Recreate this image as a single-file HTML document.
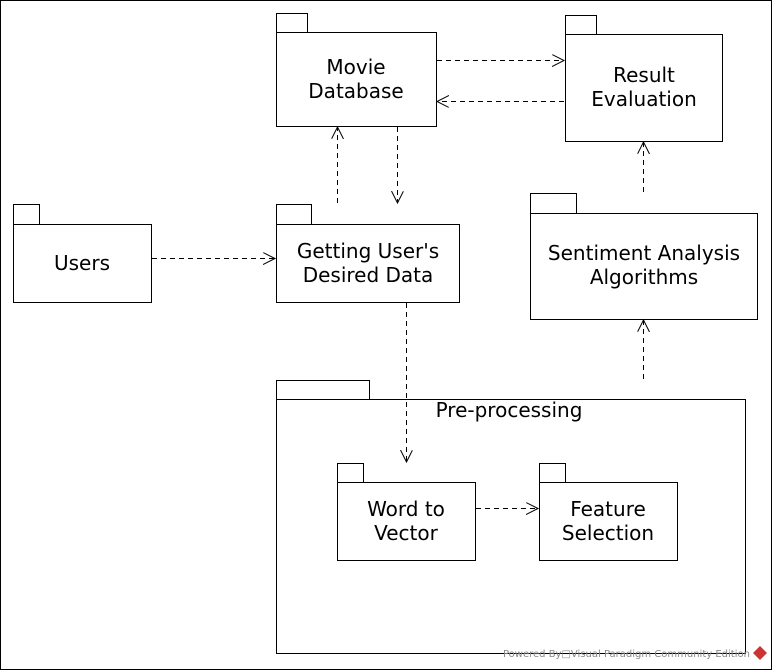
<!DOCTYPE html>
<html><head><style>html,body{margin:0;padding:0;background:#fff}svg{display:block}</style></head>
<body>
<svg width="772" height="670" xmlns="http://www.w3.org/2000/svg" font-family="DejaVu Sans, sans-serif" font-size="20">
<defs>
<marker id="a" markerWidth="14" markerHeight="14" refX="12" refY="6" orient="auto" markerUnits="userSpaceOnUse">
<path d="M0,0 L12,6 L0,12" fill="none" stroke="#000" stroke-width="1"/></marker>
</defs>
<rect x="0.5" y="0.5" width="771" height="669" fill="#fff" stroke="#000"/>
<g fill="#fff" stroke="#000" stroke-width="1">
<rect x="276.5" y="13.5" width="31" height="19"/><rect x="276.5" y="32.5" width="160" height="94"/>
<rect x="565.5" y="15.5" width="31" height="19"/><rect x="565.5" y="34.5" width="157" height="107"/>
<rect x="13.5" y="204.5" width="26" height="20"/><rect x="13.5" y="224.5" width="138" height="78"/>
<rect x="276.5" y="204.5" width="35" height="20"/><rect x="276.5" y="224.5" width="183" height="78"/>
<rect x="530.5" y="193.5" width="46" height="20"/><rect x="530.5" y="213.5" width="227" height="106"/>
<rect x="276.5" y="380.5" width="93" height="19"/><rect x="276.5" y="399.5" width="469" height="254"/>
<rect x="337.5" y="463.5" width="26" height="19"/><rect x="337.5" y="482.5" width="138" height="78"/>
<rect x="539.5" y="463.5" width="26" height="19"/><rect x="539.5" y="482.5" width="138" height="78"/>
</g>
<g text-anchor="middle" fill="#000">
<text x="356" y="74">Movie</text><text x="356" y="98">Database</text>
<text x="644" y="82">Result</text><text x="644" y="106">Evaluation</text>
<text x="82" y="270">Users</text>
<text x="368" y="258">Getting User's</text><text x="368" y="282">Desired Data</text>
<text x="644" y="260">Sentiment Analysis</text><text x="644" y="284">Algorithms</text>
<text x="509" y="417">Pre-processing</text>
<text x="406" y="516">Word to</text><text x="406" y="540">Vector</text>
<text x="608" y="516">Feature</text><text x="608" y="540">Selection</text>
</g>
<g stroke="#000" stroke-dasharray="5,4" fill="none" marker-end="url(#a)">
<line x1="437" y1="60.5" x2="564" y2="60.5"/>
<line x1="564" y1="101.5" x2="437" y2="101.5"/>
<line x1="337.5" y1="203" x2="337.5" y2="127"/>
<line x1="397.5" y1="127" x2="397.5" y2="203"/>
<line x1="152" y1="258.5" x2="275" y2="258.5"/>
<line x1="406.5" y1="303" x2="406.5" y2="462"/>
<line x1="476" y1="508.5" x2="538" y2="508.5"/>
<line x1="643.5" y1="379" x2="643.5" y2="320"/>
<line x1="643.5" y1="192" x2="643.5" y2="142"/>
</g>
<text x="503" y="657" font-size="10" fill="#888">Powered By□Visual Paradigm Community Edition</text>
<path d="M760,646 l7,7 l-7,7 l-7,-7z" fill="#c33"/>
</svg>
</body></html>
